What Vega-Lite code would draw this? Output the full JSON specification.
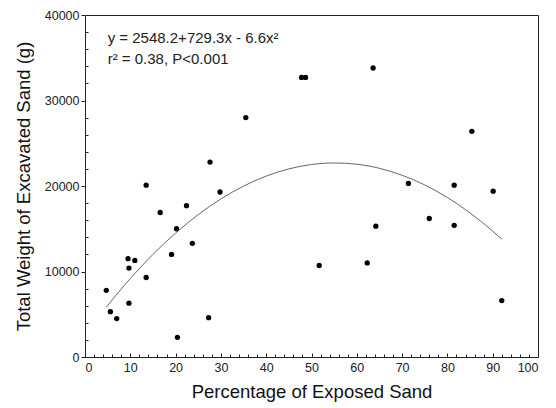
{
  "$schema": "https://vega.github.io/schema/vega-lite/v6.json",
  "width": 453,
  "height": 342,
  "autosize": {"type": "none"},
  "padding": {"left": 85, "top": 15, "right": 18, "bottom": 51},
  "background": "white",
  "config": {
    "view": {"stroke": "#222", "strokeWidth": 1},
    "font": "Liberation Sans",
    "axis": {"grid": false, "domainColor": "#222", "tickColor": "#222", "labelColor": "#222", "titleColor": "#111", "labelFont": "Liberation Sans", "titleFont": "Liberation Sans", "titleFontWeight": "normal"}
  },
  "datasets": {
    "pts": [
      {"x": 4.7, "y": 7800}, {"x": 5.6, "y": 5300}, {"x": 7.0, "y": 4500},
      {"x": 9.5, "y": 11500}, {"x": 9.7, "y": 10400}, {"x": 9.7, "y": 6300},
      {"x": 11.0, "y": 11300}, {"x": 13.5, "y": 9300}, {"x": 13.5, "y": 20100},
      {"x": 16.6, "y": 16900}, {"x": 19.1, "y": 12000}, {"x": 20.2, "y": 15000},
      {"x": 20.4, "y": 2300}, {"x": 22.4, "y": 17700}, {"x": 23.7, "y": 13300},
      {"x": 27.3, "y": 4600}, {"x": 27.6, "y": 22800}, {"x": 29.8, "y": 19300},
      {"x": 35.5, "y": 28000}, {"x": 47.8, "y": 32700}, {"x": 48.7, "y": 32700},
      {"x": 51.7, "y": 10700}, {"x": 62.3, "y": 11000}, {"x": 63.6, "y": 33800},
      {"x": 64.2, "y": 15300}, {"x": 71.4, "y": 20300}, {"x": 76.0, "y": 16200},
      {"x": 81.5, "y": 20100}, {"x": 81.5, "y": 15400}, {"x": 85.4, "y": 26400},
      {"x": 90.1, "y": 19400}, {"x": 92.0, "y": 6600}
    ],
    "fit": [
      {"x": 4.7, "y": 5830}, {"x": 10, "y": 9181}, {"x": 15, "y": 12003},
      {"x": 20, "y": 14494}, {"x": 25, "y": 16656}, {"x": 30, "y": 18487},
      {"x": 35, "y": 19989}, {"x": 40, "y": 21160}, {"x": 45, "y": 22002},
      {"x": 50, "y": 22513}, {"x": 55, "y": 22695}, {"x": 60, "y": 22546},
      {"x": 65, "y": 22068}, {"x": 70, "y": 21259}, {"x": 75, "y": 20121},
      {"x": 80, "y": 18652}, {"x": 85, "y": 16854}, {"x": 90, "y": 14725},
      {"x": 92, "y": 13782}
    ],
    "notes": [
      {"x": 5, "y": 37300, "t": "y = 2548.2+729.3x - 6.6x²"},
      {"x": 5, "y": 34800, "t": "r² = 0.38, P<0.001"}
    ]
  },
  "layer": [
    {
      "data": {"name": "fit"},
      "mark": {"type": "line", "color": "#666", "strokeWidth": 1, "interpolate": "monotone"},
      "encoding": {
        "x": {"field": "x", "type": "quantitative", "scale": {"domain": [0, 100], "nice": false},
          "axis": {"orient": "bottom", "values": [0,10,20,30,40,50,60,70,80,90,100], "format": "d", "title": "Percentage of Exposed Sand", "titleFontSize": 18.5, "titlePadding": 9, "labelFontSize": 12.5, "tickSize": -4, "labelPadding": 8, "domain": false}},
        "y": {"field": "y", "type": "quantitative", "scale": {"domain": [0, 40000], "nice": false},
          "axis": {"orient": "left", "values": [0,10000,20000,30000,40000], "format": "d", "title": "Total Weight of Excavated Sand (g)", "titleFontSize": 18.5, "titlePadding": 11, "labelFontSize": 12.5, "tickSize": 4, "labelPadding": 2, "domain": false}}
      }
    },
    {
      "data": {"name": "pts"},
      "mark": {"type": "circle", "color": "#000", "opacity": 1, "size": 28},
      "encoding": {
        "x": {"field": "x", "type": "quantitative",
          "axis": {"orient": "bottom", "values": [2,4,6,8,12,14,16,18,22,24,26,28,32,34,36,38,42,44,46,48,52,54,56,58,62,64,66,68,72,74,76,78,82,84,86,88,92,94,96,98], "labels": false, "title": null, "tickSize": -3, "domain": false}},
        "y": {"field": "y", "type": "quantitative",
          "axis": {"orient": "left", "values": [2000,4000,6000,8000,12000,14000,16000,18000,22000,24000,26000,28000,32000,34000,36000,38000], "labels": false, "title": null, "tickSize": -3, "domain": false}}
      }
    },
    {
      "data": {"name": "notes"},
      "mark": {"type": "text", "align": "left", "baseline": "middle", "fontSize": 15, "color": "#222", "font": "Liberation Sans"},
      "encoding": {
        "x": {"field": "x", "type": "quantitative", "axis": null},
        "y": {"field": "y", "type": "quantitative", "axis": null},
        "text": {"field": "t"}
      }
    }
  ],
  "resolve": {"axis": {"x": "independent", "y": "independent"}}
}
